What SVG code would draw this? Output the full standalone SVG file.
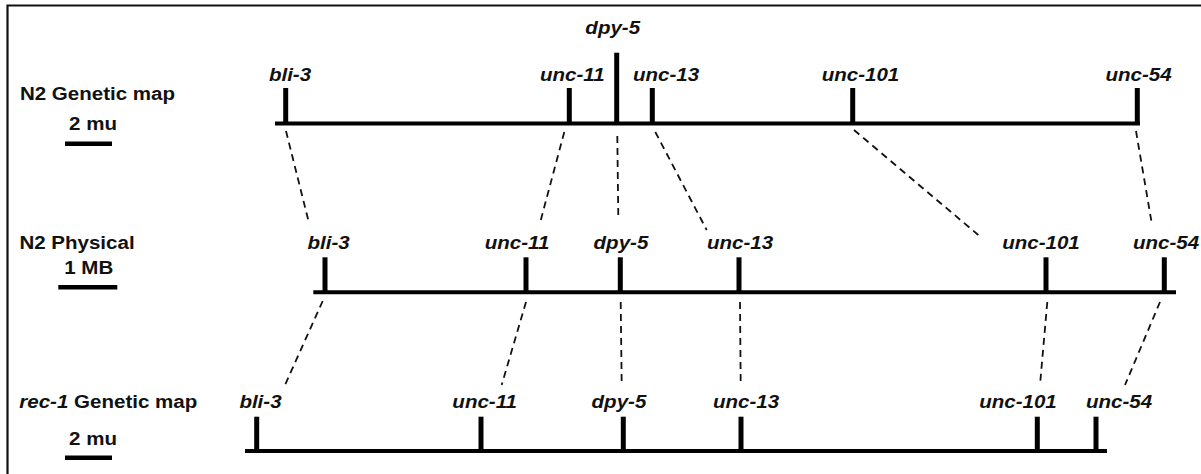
<svg xmlns="http://www.w3.org/2000/svg" width="1201" height="474" viewBox="0 0 1201 474">
  <style>
    text { font-family: "Liberation Sans", Arial, sans-serif; font-weight: bold; font-size: 18.5px; text-anchor: middle; fill: #111; transform-box: fill-box; transform-origin: center; transform: scaleX(1.11); }
    .gene { font-style: italic; }
    .axis { stroke: #000; stroke-width: 4; fill: none; }
    .tick { stroke: #000; stroke-width: 5; fill: none; }
    .scale { stroke: #000; stroke-width: 4.5; fill: none; }
    .link { stroke: #111; stroke-width: 1.8; stroke-dasharray: 7 5; fill: none; }
    .frame { stroke: #111; stroke-width: 2.2; fill: none; }
  </style>

  <rect width="1201" height="474" fill="#fff"/>
  <!-- open frame: top and left edges -->
  <path class="frame" d="M7.5,480 V5.5 H1210"/>

  <!-- N2 genetic map -->
  <g id="row-n2-genetic">
    <text x="97.5" y="100">N2 Genetic map</text>
    <text x="93" y="130">2 mu</text>
    <line class="scale" x1="65" y1="143.8" x2="112" y2="143.8"/>
    <line class="axis" x1="275" y1="123.5" x2="1140" y2="123.5"/>
  </g>
  <g id="g1-bli-3"><line class="tick" x1="285.7" y1="88" x2="285.7" y2="123"/><text class="gene" x="290" y="81">bli-3</text></g>
  <g id="g1-unc-11"><line class="tick" x1="569.3" y1="88" x2="569.3" y2="123"/><text class="gene" x="572.3" y="81">unc-11</text></g>
  <g id="g1-dpy-5"><line class="tick" x1="616.7" y1="52.7" x2="616.7" y2="123"/><text class="gene" x="612.8" y="34.5">dpy-5</text></g>
  <g id="g1-unc-13"><line class="tick" x1="652.3" y1="88" x2="652.3" y2="123"/><text class="gene" x="666" y="81">unc-13</text></g>
  <g id="g1-unc-101"><line class="tick" x1="852.7" y1="88" x2="852.7" y2="123"/><text class="gene" x="860.5" y="81">unc-101</text></g>
  <g id="g1-unc-54"><line class="tick" x1="1137.3" y1="88" x2="1137.3" y2="123"/><text class="gene" x="1138.5" y="81">unc-54</text></g>

  <!-- N2 physical map -->
  <g id="row-n2-physical">
    <text x="77" y="249.5">N2 Physical</text>
    <text x="88.7" y="274.5">1 MB</text>
    <line class="scale" x1="58.3" y1="287.3" x2="117.3" y2="287.3"/>
    <line class="axis" x1="313.3" y1="292.3" x2="1176" y2="292.3"/>
  </g>
  <g id="p-bli-3"><line class="tick" x1="325" y1="257.3" x2="325" y2="292"/><text class="gene" x="328.7" y="249.5">bli-3</text></g>
  <g id="p-unc-11"><line class="tick" x1="526" y1="257.3" x2="526" y2="292"/><text class="gene" x="517" y="249.5">unc-11</text></g>
  <g id="p-dpy-5"><line class="tick" x1="620.3" y1="257.3" x2="620.3" y2="292"/><text class="gene" x="621" y="249.5">dpy-5</text></g>
  <g id="p-unc-13"><line class="tick" x1="739" y1="257.3" x2="739" y2="292"/><text class="gene" x="740" y="249.5">unc-13</text></g>
  <g id="p-unc-101"><line class="tick" x1="1046" y1="257.3" x2="1046" y2="292"/><text class="gene" x="1041" y="249.5">unc-101</text></g>
  <g id="p-unc-54"><line class="tick" x1="1164.3" y1="257.3" x2="1164.3" y2="292"/><text class="gene" x="1166" y="249.5">unc-54</text></g>

  <!-- rec-1 genetic map -->
  <g id="row-rec1-genetic">
    <text x="108.3" y="408.3"><tspan class="gene">rec-1</tspan> Genetic map</text>
    <text x="93" y="445">2 mu</text>
    <line class="scale" x1="65" y1="457.7" x2="112" y2="457.7"/>
    <line class="axis" x1="245" y1="451" x2="1107" y2="451"/>
  </g>
  <g id="r-bli-3"><line class="tick" x1="256.7" y1="416.7" x2="256.7" y2="451"/><text class="gene" x="260.5" y="408.3">bli-3</text></g>
  <g id="r-unc-11"><line class="tick" x1="481" y1="416.7" x2="481" y2="451"/><text class="gene" x="484.7" y="408.3">unc-11</text></g>
  <g id="r-dpy-5"><line class="tick" x1="623.3" y1="416.7" x2="623.3" y2="451"/><text class="gene" x="619" y="408.3">dpy-5</text></g>
  <g id="r-unc-13"><line class="tick" x1="741" y1="416.7" x2="741" y2="451"/><text class="gene" x="746" y="408.3">unc-13</text></g>
  <g id="r-unc-101"><line class="tick" x1="1037.3" y1="416.7" x2="1037.3" y2="451"/><text class="gene" x="1018" y="408.3">unc-101</text></g>
  <g id="r-unc-54"><line class="tick" x1="1096" y1="416.7" x2="1096" y2="451"/><text class="gene" x="1119" y="408.3">unc-54</text></g>

  <!-- dashed correspondences between maps -->
  <g id="connectors">
    <line class="link" x1="286" y1="131" x2="309" y2="223"/>
    <line class="link" x1="564.3" y1="132" x2="540" y2="223"/>
    <line class="link" x1="617.3" y1="136" x2="618.3" y2="217"/>
    <line class="link" x1="655.3" y1="132" x2="706.7" y2="230"/>
    <line class="link" x1="854" y1="130" x2="978.3" y2="235"/>
    <line class="link" x1="1136" y1="131" x2="1151.7" y2="223"/>

    <line class="link" x1="322.7" y1="301" x2="285" y2="385"/>
    <line class="link" x1="526" y1="302" x2="501.7" y2="385"/>
    <line class="link" x1="620.7" y1="302" x2="621.7" y2="385"/>
    <line class="link" x1="740" y1="302" x2="740.7" y2="385"/>
    <line class="link" x1="1047.3" y1="302" x2="1040" y2="385"/>
    <line class="link" x1="1160" y1="302" x2="1125" y2="385"/>
  </g>
</svg>
